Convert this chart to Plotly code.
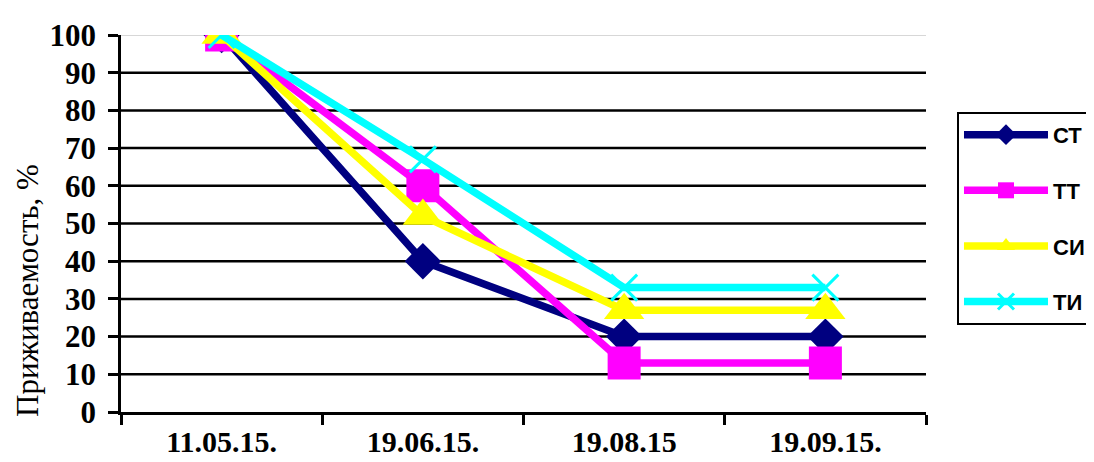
import plotly.graph_objects as go

dates = ["11.05.15.", "19.06.15.", "19.08.15", "19.09.15."]
st = [100, 40, 20, 20]
tt = [100, 60, 13, 13]
si = [100, 52, 27, 27]
ti = [100, 67, 33, 33]
y_ticks = list(range(0, 101, 10))
y_title = "Приживаемость, %"

series = [
    ("СТ", st, "#000080", "diamond", 28, 0),
    ("ТТ", tt, "#FF00FF", "square", 33, 0),
    ("СИ", si, "#FFFF00", "triangle-up", 35, 0),
    ("ТИ", ti, "#00FFFF", "x-thin-open", 26, 3),
]

fig = go.Figure()
for name, vals, color, sym, size, mlw in series:
    fig.add_trace(go.Scatter(
        x=dates, y=vals, name=name, mode="lines+markers",
        line=dict(color=color, width=7.5),
        marker=dict(symbol=sym, size=size, color=color,
                    line=dict(color=color, width=mlw)),
        legendgroup=name,
    ))

# gridlines (black) for 10..90, thin grey at 100
for v in y_ticks[1:-1]:
    fig.add_shape(type="line", xref="paper", yref="y", x0=0, x1=1, y0=v, y1=v,
                  line=dict(color="black", width=2.5), layer="below")
fig.add_shape(type="line", xref="paper", yref="y", x0=0, x1=1, y0=100, y1=100,
              line=dict(color="#b0b0b0", width=1), layer="below")

fig.add_annotation(
    text=y_title, textangle=-90, xref="paper", yref="paper",
    x=-0.1155, y=0.321, xanchor="center", yanchor="middle", showarrow=False,
    font=dict(family="Liberation Serif", size=31, color="black"),
)

fig.update_layout(
    width=1094, height=462,
    paper_bgcolor="white", plot_bgcolor="white",
    margin=dict(l=113, r=176, t=27, b=58, autoexpand=False),
    showlegend=True,
    legend=dict(
        x=1.0385, y=0.796, xanchor="left", yanchor="top",
        bordercolor="black", borderwidth=2,
        font=dict(family="Liberation Sans", size=22, color="black", weight="bold"),
        itemwidth=84, tracegroupgap=24,
        bgcolor="white",
    ),
)
fig.update_xaxes(
    type="category", range=[-0.5, 3.5],
    showline=True, linecolor="black", linewidth=2.5,
    ticks="outside", tickson="boundaries", ticklen=10, tickwidth=2.5, tickcolor="black",
    showgrid=False, zeroline=False, ticklabelstandoff=1,
    tickfont=dict(family="Liberation Serif", size=30, color="black", weight="bold"),
)
fig.update_yaxes(
    range=[0, 100], tickvals=y_ticks,
    showline=True, linecolor="black", linewidth=2.5,
    ticks="outside", ticklen=10, tickwidth=2.5, tickcolor="black",
    showgrid=False, zeroline=False, ticklabelstandoff=6,
    tickfont=dict(family="Liberation Serif", size=31, color="black", weight="bold"),
)

fig.write_html("out.html")
